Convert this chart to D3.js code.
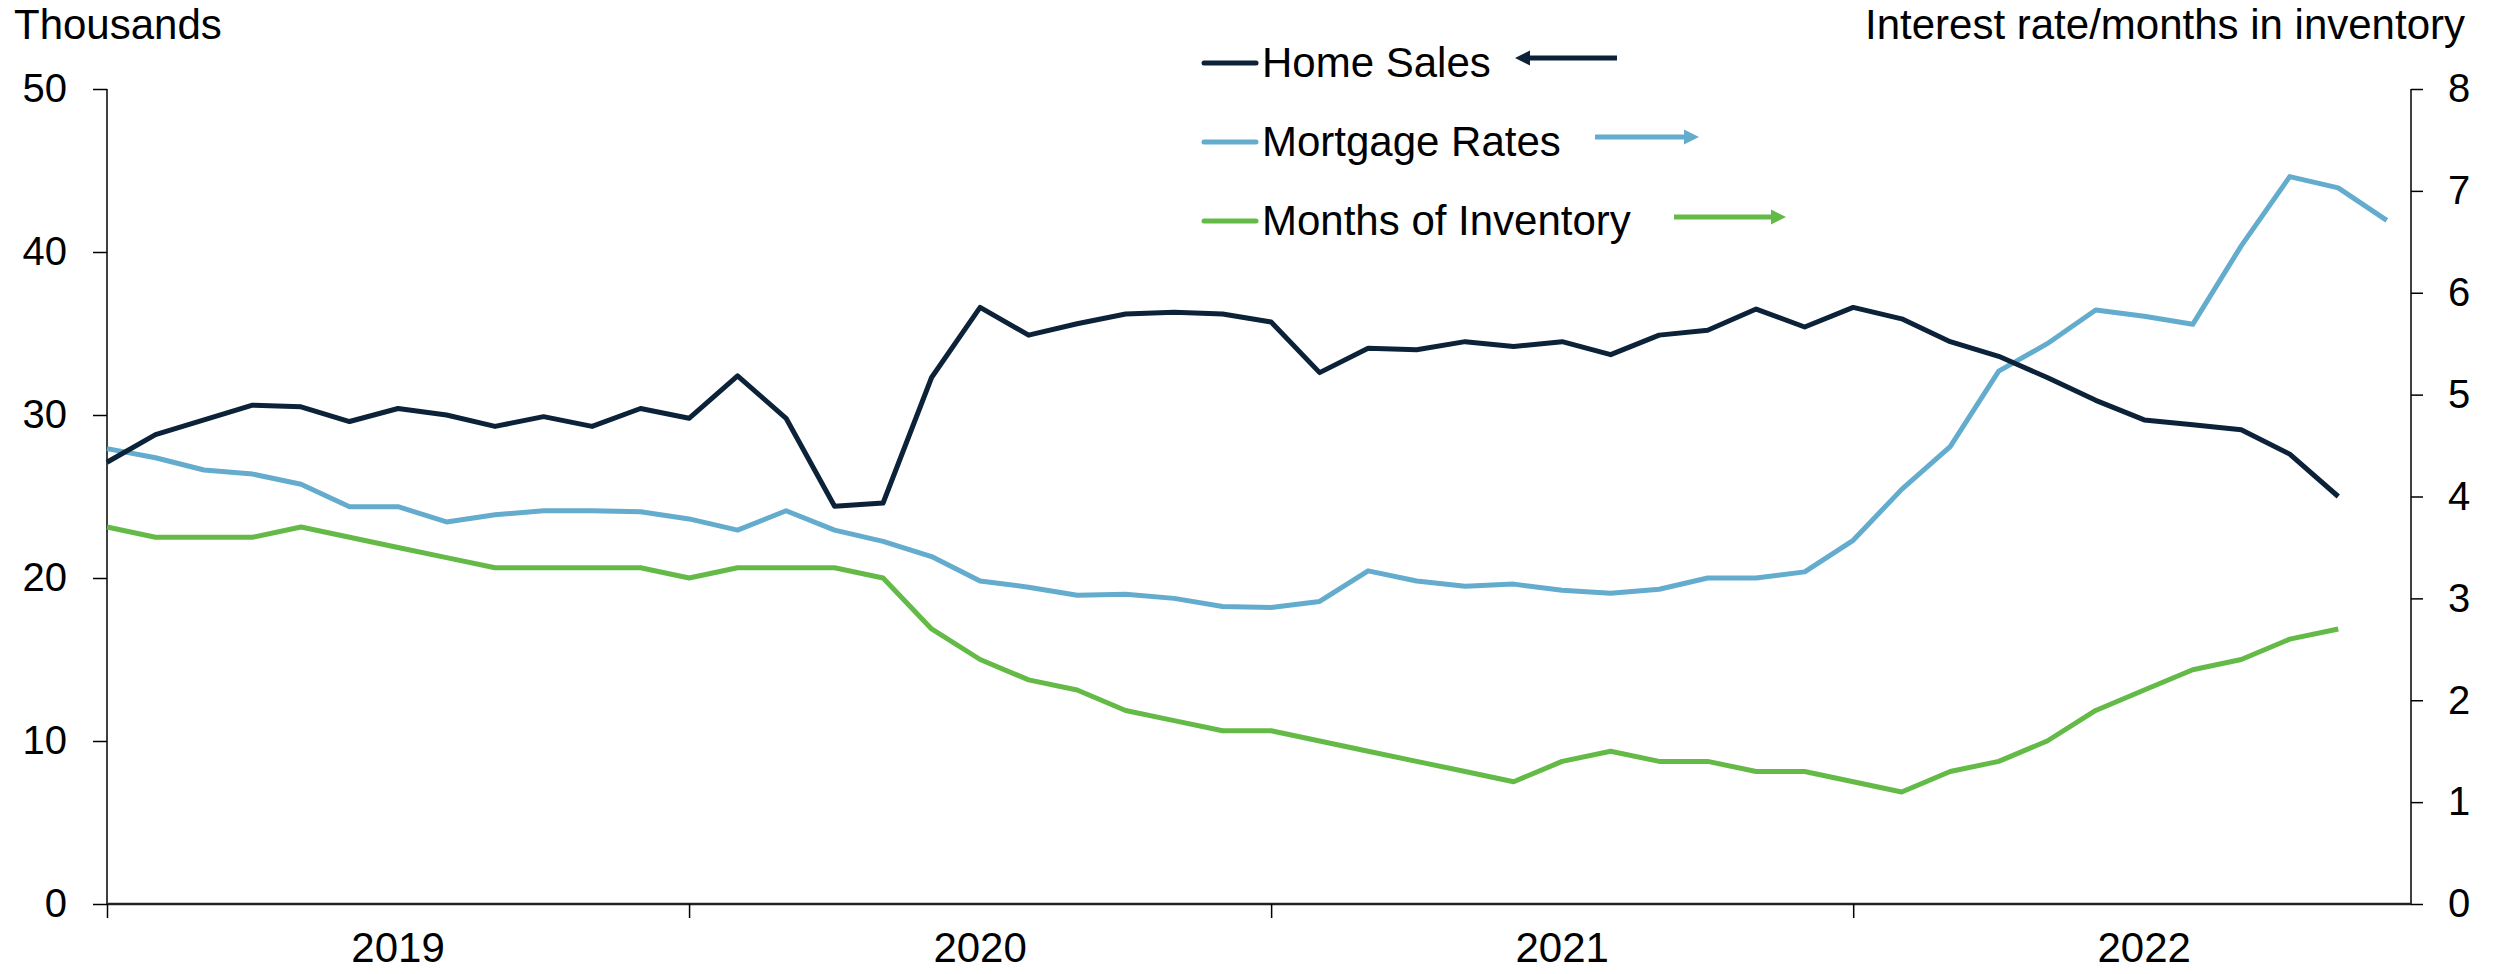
<!DOCTYPE html>
<html>
<head>
<meta charset="utf-8">
<script src="https://cdn.jsdelivr.net/npm/d3@7"></script>
<style>
    body { margin: 0; background: #fff; }
    svg { display: block; }
    text { font-family: 'Liberation Sans', Arial, sans-serif; fill: #000; }
</style>
</head>
<body>
<svg id="chart" width="2497" height="974"></svg>
<script>
// monthly points, Jan 2019 onward
const months = d3.range(48).map(i => d3.timeFormat('%Y-%m')(new Date(2019, i, 1)));
const years = ['2019', '2020', '2021', '2022'];

// thousands (left axis)
const homeSales = [27.1, 28.8, 29.7, 30.6, 30.5, 29.6, 30.4, 30.0, 29.3, 29.9, 29.3, 30.4,
                   29.8, 32.4, 29.8, 24.4, 24.6, 32.3, 36.6, 34.9, 35.6, 36.2, 36.3, 36.2,
                   35.7, 32.6, 34.1, 34.0, 34.5, 34.2, 34.5, 33.7, 34.9, 35.2, 36.5, 35.4,
                   36.6, 35.9, 34.5, 33.6, 32.3, 30.9, 29.7, 29.4, 29.1, 27.6, 25.0];

// percent (right axis)
const mortgageRates = [4.47, 4.38, 4.26, 4.22, 4.12, 3.90, 3.90, 3.75, 3.82, 3.86, 3.86, 3.85,
                       3.78, 3.67, 3.86, 3.67, 3.56, 3.41, 3.17, 3.11, 3.03, 3.04, 3.00, 2.92,
                       2.91, 2.97, 3.27, 3.17, 3.12, 3.14, 3.08, 3.05, 3.09, 3.20, 3.20, 3.26,
                       3.57, 4.07, 4.49, 5.23, 5.50, 5.83, 5.77, 5.69, 6.46, 7.14, 7.03, 6.71];

// months (right axis)
const inventory = [3.7, 3.6, 3.6, 3.6, 3.7, 3.6, 3.5, 3.4, 3.3, 3.3, 3.3, 3.3,
                   3.2, 3.3, 3.3, 3.3, 3.2, 2.7, 2.4, 2.2, 2.1, 1.9, 1.8, 1.7,
                   1.7, 1.6, 1.5, 1.4, 1.3, 1.2, 1.4, 1.5, 1.4, 1.4, 1.3, 1.3,
                   1.2, 1.1, 1.3, 1.4, 1.6, 1.9, 2.1, 2.3, 2.4, 2.6, 2.7];

const leftTicks = [0, 10, 20, 30, 40, 50];
const rightTicks = [0, 1, 2, 3, 4, 5, 6, 7, 8];

const colors = { home: '#0c2239', mortgage: '#64acce', inventory: '#64ba47' };

let svg = d3.select('#chart');

let plotLeft = 107, plotRight = 2411, plotTop = 89, plotBottom = 904;

let x = d3.scaleLinear()
          .domain([0, 47.5])
          .range([plotLeft, plotRight]);

let yLeft = d3.scaleLinear()
              .domain([0, 50])
              .range([plotBottom, plotTop]);

let yRight = d3.scaleLinear()
               .domain([0, 8])
               .range([plotBottom, plotTop]);

// left axis
let leftAxis = svg.append('g')
                  .attr('transform', `translate(${plotLeft},0)`)
                  .call(d3.axisLeft(yLeft).tickValues(leftTicks).tickSize(14).tickPadding(26));
leftAxis.select('.domain').attr('d', `M0,${plotTop}V${plotBottom}`).attr('stroke', '#000').attr('stroke-width', 1.5);
leftAxis.selectAll('.tick line').attr('stroke', '#000').attr('stroke-width', 1.5);
leftAxis.selectAll('.tick text').attr('font-size', 40).attr('font-family', 'Liberation Sans, Arial, sans-serif');

// right axis
let rightAxis = svg.append('g')
                   .attr('transform', `translate(${plotRight},0)`)
                   .call(d3.axisRight(yRight).tickValues(rightTicks).tickSize(12).tickPadding(25));
rightAxis.select('.domain').attr('d', `M0,${plotTop}V${plotBottom}`).attr('stroke', '#000').attr('stroke-width', 1.5);
rightAxis.selectAll('.tick line').attr('stroke', '#000').attr('stroke-width', 1.5);
rightAxis.selectAll('.tick text').attr('font-size', 40).attr('font-family', 'Liberation Sans, Arial, sans-serif');

// bottom axis
let bottomAxis = svg.append('g')
                    .attr('transform', `translate(0,${plotBottom})`)
                    .call(d3.axisBottom(x).tickValues([0, 12, 24, 36]).tickSize(14).tickFormat(''));
bottomAxis.select('.domain').attr('d', `M${plotLeft},0H${plotRight}`).attr('stroke', '#222').attr('stroke-width', 2.5);
bottomAxis.selectAll('.tick line').attr('stroke', '#000').attr('stroke-width', 1.5);

svg.append('g')
   .selectAll('text')
   .data(years)
   .join('text')
   .attr('x', (d, i) => x(i * 12 + 6))
   .attr('y', 962)
   .attr('text-anchor', 'middle')
   .attr('font-size', 42)
   .text(d => d);

// axis titles
svg.append('text')
   .attr('x', 14)
   .attr('y', 39)
   .attr('font-size', 42)
   .text('Thousands');

svg.append('text')
   .attr('x', 2465)
   .attr('y', 39)
   .attr('text-anchor', 'end')
   .attr('font-size', 42)
   .text('Interest rate/months in inventory');

// series lines
let lineLeft = d3.line().x((d, i) => x(i)).y(d => yLeft(d));
let lineRight = d3.line().x((d, i) => x(i)).y(d => yRight(d));

svg.append('path')
   .datum(inventory)
   .attr('d', lineRight)
   .attr('fill', 'none')
   .attr('stroke', colors.inventory)
   .attr('stroke-width', 5)
   .attr('stroke-linejoin', 'round');

svg.append('path')
   .datum(mortgageRates)
   .attr('d', lineRight)
   .attr('fill', 'none')
   .attr('stroke', colors.mortgage)
   .attr('stroke-width', 5)
   .attr('stroke-linejoin', 'round');

svg.append('path')
   .datum(homeSales)
   .attr('d', lineLeft)
   .attr('fill', 'none')
   .attr('stroke', colors.home)
   .attr('stroke-width', 5)
   .attr('stroke-linejoin', 'round');

// legend
let legendItems = [
    { name: 'Home Sales', color: colors.home, y: 63, arrow: [1617, 1516], ay: 58 },
    { name: 'Mortgage Rates', color: colors.mortgage, y: 142, arrow: [1595, 1698], ay: 137 },
    { name: 'Months of Inventory', color: colors.inventory, y: 221, arrow: [1674, 1785], ay: 217 }
];

let defs = svg.append('defs');
legendItems.forEach((d, i) => {
    defs.append('marker')
        .attr('id', 'arrow' + i)
        .attr('viewBox', '0 0 10 10')
        .attr('refX', 0)
        .attr('refY', 5)
        .attr('markerWidth', 3)
        .attr('markerHeight', 3.2)
        .attr('markerUnits', 'strokeWidth')
        .attr('orient', 'auto')
        .append('path')
        .attr('d', 'M0,0L10,5L0,10Z')
        .attr('fill', d.color);
});

let legend = svg.append('g').attr('class', 'legend');

legend.selectAll('line.sample')
      .data(legendItems)
      .join('line')
      .attr('class', 'sample')
      .attr('x1', 1204)
      .attr('x2', 1256)
      .attr('y1', d => d.y)
      .attr('y2', d => d.y)
      .attr('stroke', d => d.color)
      .attr('stroke-width', 5)
      .attr('stroke-linecap', 'round');

legend.selectAll('text')
      .data(legendItems)
      .join('text')
      .attr('x', 1262)
      .attr('y', d => d.y + 14)
      .attr('font-size', 42)
      .text(d => d.name);

legend.selectAll('line.arrow')
      .data(legendItems)
      .join('line')
      .attr('class', 'arrow')
      .attr('x1', d => d.arrow[0])
      .attr('x2', d => d.arrow[1] + (d.arrow[1] > d.arrow[0] ? -14 : 14))
      .attr('y1', d => d.ay)
      .attr('y2', d => d.ay)
      .attr('stroke', d => d.color)
      .attr('stroke-width', 5)
      .attr('marker-end', (d, i) => `url(#arrow${i})`);
</script>
</body>
</html>
